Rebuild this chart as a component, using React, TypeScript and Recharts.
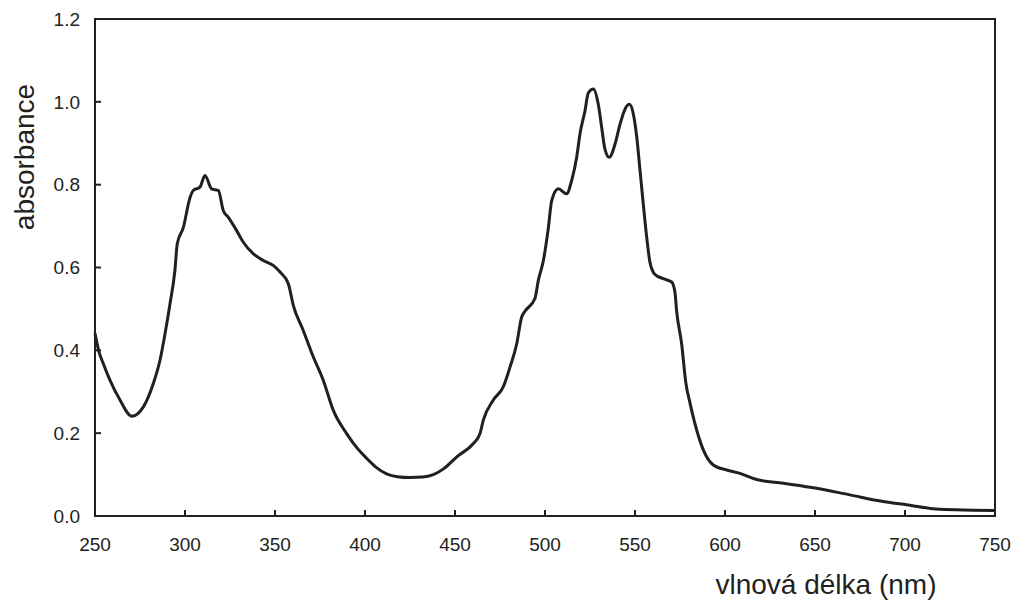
import React from 'react';
import { LineChart, Line, XAxis, YAxis, ReferenceArea, Label } from 'recharts';

// wavelength (nm) and absorbance
const wavelengths = [
  250, 252, 254.6, 258.3, 263.9, 270.4, 276.8, 282.4, 286.1, 288.9,
  291.7, 294.4, 295.7, 299.1, 302.8, 304.6, 308.3, 311.1, 314.8, 318.5,
  321.3, 324.1, 328.7, 332.4, 338, 343.5, 349, 352.8, 357.4, 360.2,
  365.7, 371.3, 376.8, 382.4, 389.8, 396, 401, 406, 412, 418,
  425, 432, 438, 444, 451, 460.2, 463.9, 465.7, 471.3, 476.8,
  480.6, 484.3, 487, 489, 494.4, 496.3, 499.1, 501.9, 503.7, 507.4,
  512, 514.8, 517.6, 519.4, 522.2, 524.1, 526.9, 529.6, 531.5, 533.3,
  535.7, 538.9, 541.7, 544.4, 546.9, 549.1, 551, 552.8, 554.6, 556.5,
  558.3, 561.1, 565.7, 570.4, 572.2, 573.1, 575.9, 578.3, 580.6, 584.3,
  588, 593.5, 600.9, 608.3, 617.6, 632.4, 650.9, 669.4, 687.9, 700.9,
  719.4, 737.9, 750,
];

const absorbance = [
  0.441, 0.4, 0.368, 0.328, 0.28, 0.241, 0.263, 0.32, 0.376, 0.44,
  0.513, 0.593, 0.657, 0.697, 0.769, 0.786, 0.794, 0.822, 0.79, 0.786,
  0.737, 0.721, 0.689, 0.661, 0.633, 0.617, 0.605, 0.589, 0.561, 0.508,
  0.448, 0.384, 0.328, 0.255, 0.199, 0.162, 0.139, 0.118, 0.102, 0.095,
  0.093, 0.094, 0.1, 0.115, 0.143, 0.175, 0.199, 0.231, 0.28, 0.312,
  0.36, 0.416, 0.48, 0.495, 0.525, 0.569, 0.617, 0.697, 0.761, 0.79,
  0.778, 0.81, 0.866, 0.922, 0.978, 1.022, 1.031, 0.994, 0.938, 0.886,
  0.866, 0.898, 0.946, 0.982, 0.994, 0.97, 0.914, 0.834, 0.753, 0.673,
  0.613, 0.583, 0.573, 0.565, 0.54, 0.496, 0.416, 0.32, 0.272, 0.207,
  0.159, 0.123, 0.111, 0.103, 0.088, 0.079, 0.067, 0.051, 0.035, 0.027,
  0.016, 0.014, 0.013,
];

const xTicks = [250, 300, 350, 400, 450, 500, 550, 600, 650, 700, 750];
const yTicks = [0, 0.2, 0.4, 0.6, 0.8, 1.0, 1.2];

const data = wavelengths.map((nm, i) => ({ nm, a: absorbance[i] }));

const ink = '#231f20';
const font = '"Liberation Sans", Arial, sans-serif';

const App = () => {
  return (
    <div style={{ position: 'absolute', left: 0, top: 0, background: '#fff' }}>
      <LineChart
        width={1016}
        height={602}
        data={data}
        margin={{ top: 19, right: 21, bottom: 46, left: 40 }}
      >
        <XAxis
          dataKey="nm"
          type="number"
          domain={[250, 750]}
          ticks={xTicks}
          height={40}
          tickSize={-6}
          tickMargin={28}
          axisLine={{ stroke: ink, strokeWidth: 2 }}
          tickLine={{ stroke: ink, strokeWidth: 2 }}
          tick={{ fill: ink, fontSize: 19, fontFamily: font }}
        >
          <Label
            content={() => (
              <text x={826} y={594} textAnchor="middle" fill={ink} fontSize={28} fontFamily={font}>
                vlnová délka (nm)
              </text>
            )}
          />
        </XAxis>
        <YAxis
          type="number"
          domain={[0, 1.2]}
          ticks={yTicks}
          width={55}
          tickSize={-6}
          tickMargin={21}
          tickFormatter={(v: number) => v.toFixed(1)}
          axisLine={{ stroke: ink, strokeWidth: 2 }}
          tickLine={{ stroke: ink, strokeWidth: 2 }}
          tick={{ fill: ink, fontSize: 19, fontFamily: font }}
        >
          <Label
            content={() => (
              <text
                x={34}
                y={157}
                textAnchor="middle"
                fill={ink}
                fontSize={28}
                fontFamily={font}
                transform="rotate(-90 34 157)"
              >
                absorbance
              </text>
            )}
          />
        </YAxis>
        <ReferenceArea
          x1={250}
          x2={750}
          y1={0}
          y2={1.2}
          fill="none"
          stroke={ink}
          strokeWidth={2}
          fillOpacity={0}
        />
        <Line
          type="monotone"
          dataKey="a"
          stroke={ink}
          strokeWidth={3}
          dot={false}
          isAnimationActive={false}
        />
      </LineChart>
    </div>
  );
};

export default App;
